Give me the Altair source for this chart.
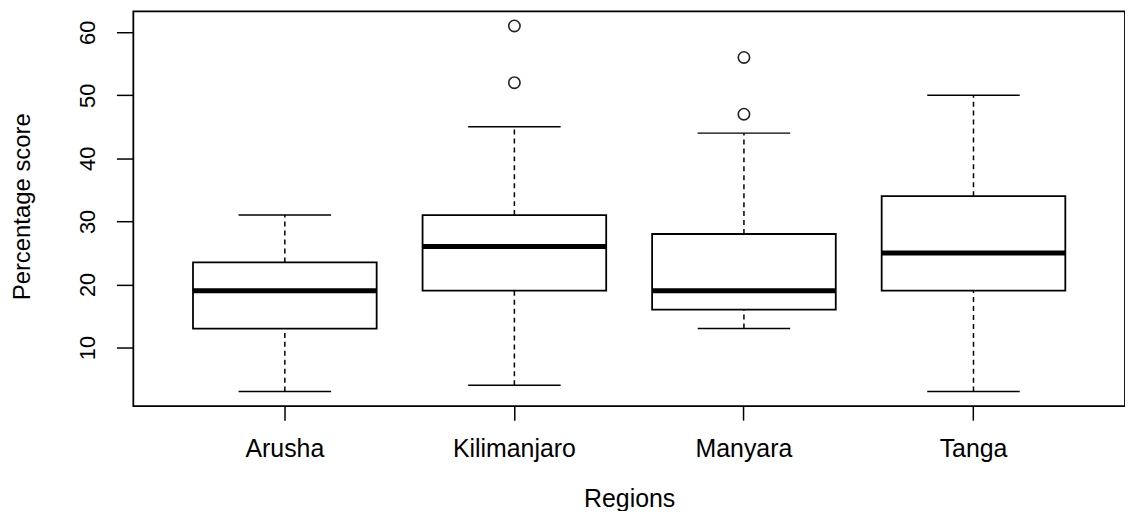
import altair as alt
import pandas as pd

regions = ["Arusha", "Kilimanjaro", "Manyara", "Tanga"]
lower = [3, 4, 13, 3]
q1 = [13, 19, 16, 19]
median = [19, 26, 19, 25]
q3 = [23.5, 31, 28, 34]
upper = [31, 45, 44, 50]

outlier_region = ["Kilimanjaro", "Kilimanjaro", "Manyara", "Manyara"]
outlier_value = [52, 61, 47, 56]

y_ticks = [10, 20, 30, 40, 50, 60]

box_df = pd.DataFrame({"region": regions, "lower": lower, "q1": q1,
                       "median": median, "q3": q3, "upper": upper})
out_df = pd.DataFrame({"region": outlier_region, "value": outlier_value})

FONT = "Liberation Sans"

xscale = alt.Scale(domain=regions, paddingInner=0.2, paddingOuter=0.26)
yscale = alt.Scale(domain=[0.68, 63.32], nice=False, zero=False)

xenc = alt.X("region:N", scale=xscale, sort=regions,
             axis=alt.Axis(title="Regions", labelAngle=0, domain=False, grid=False,
                           tickSize=14, tickWidth=1.5, tickColor="black",
                           labelPadding=17, labelFontSize=25, labelFont=FONT,
                           labelColor="black", labelBaseline="top",
                           titleFontSize=25, titleFont=FONT, titleFontWeight="normal",
                           titleColor="black", titleBaseline="alphabetic", titleY=101))

yaxis = alt.Axis(title="Percentage score", values=y_ticks, domain=False, grid=False,
                 tickSize=17, tickWidth=1.5, tickColor="black",
                 labelAngle=270, labelAlign="center", labelBaseline="alphabetic",
                 labelPadding=22, labelFontSize=22, labelFont=FONT, labelColor="black",
                 labelFlush=False, labelOverlap=False,
                 titleFontSize=24, titleFont=FONT, titleFontWeight="normal",
                 titleColor="black", titleAngle=270, titleAlign="center",
                 titleBaseline="alphabetic", titleX=-104, titleY=196)

base = alt.Chart(box_df)

whisk_low = base.mark_rule(color="black", strokeWidth=1.5, strokeDash=[5, 4]).encode(
    x=xenc, y=alt.Y("lower:Q", scale=yscale, axis=yaxis), y2="q1:Q")
whisk_high = base.mark_rule(color="black", strokeWidth=1.5, strokeDash=[5, 4]).encode(
    x=xenc, y=alt.Y("q3:Q", scale=yscale, axis=yaxis), y2="upper:Q")

box = base.mark_bar(fill="white", stroke="black", strokeWidth=1.8, opacity=1).encode(
    x=xenc, y=alt.Y("q1:Q", scale=yscale, axis=yaxis), y2="q3:Q")

med = base.mark_tick(color="black", size=185, thickness=5, orient="horizontal",
                     opacity=1).encode(
    x=xenc, y=alt.Y("median:Q", scale=yscale, axis=yaxis))

cap_low = base.mark_tick(color="black", size=93, thickness=1.5, orient="horizontal",
                         opacity=1).encode(
    x=xenc, y=alt.Y("lower:Q", scale=yscale, axis=yaxis))
cap_high = base.mark_tick(color="black", size=93, thickness=1.5, orient="horizontal",
                          opacity=1).encode(
    x=xenc, y=alt.Y("upper:Q", scale=yscale, axis=yaxis))

outliers = alt.Chart(out_df).mark_point(shape="circle", filled=False, size=130,
                                        stroke="#222222", strokeWidth=1.6,
                                        opacity=1).encode(
    x=xenc, y=alt.Y("value:Q", scale=yscale, axis=yaxis))

chart = alt.layer(whisk_low, whisk_high, box, med, cap_low, cap_high, outliers).properties(
    width=997, height=397,
    padding={"left": 126, "top": 2, "right": 0, "bottom": 104},
    autosize=alt.AutoSizeParams(type="none"),
    background="white",
).configure_view(stroke="black", strokeWidth=1.8)

chart.save("out.html", embed_options={"renderer": "svg", "actions": False})
